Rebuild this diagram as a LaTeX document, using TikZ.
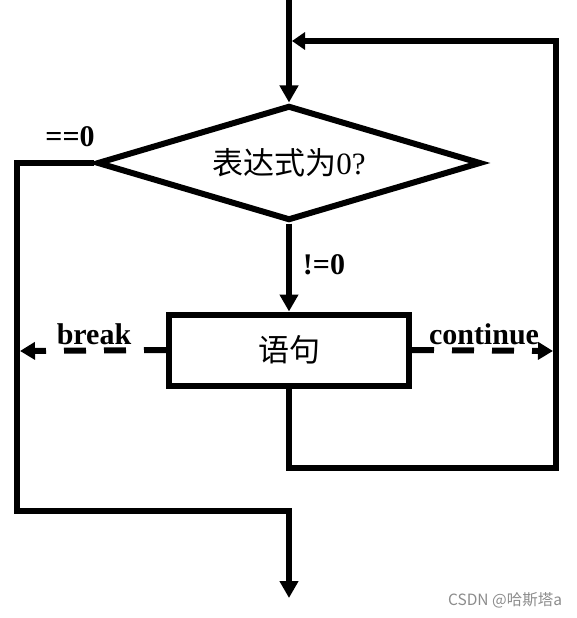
\documentclass[tikz,border=0pt]{standalone}
\usepackage{fontspec}
\setmainfont{Liberation Serif}
\newfontfamily\cjk{Noto Sans CJK SC}
\usetikzlibrary{shapes.geometric, arrows.meta, positioning}
\definecolor{FlowBlack}{HTML}{000000}
\definecolor{FlowWhite}{HTML}{FFFFFF}
\definecolor{FlowGray}{HTML}{8C8C8C}
\tikzset{
    % Decision box style
    decision/.style={
        diamond,
        draw=FlowBlack,
        fill=FlowWhite,
        line width=6pt,
        aspect=3.34,
        minimum width=384pt,
        minimum height=115pt,
        inner sep=0pt,
        align=center,
        font=\fontsize{31}{37}\selectfont
    },
    % Statement box style
    process/.style={
        rectangle,
        draw=FlowBlack,
        fill=FlowWhite,
        line width=6pt,
        minimum width=240pt,
        minimum height=71pt,
        inner sep=0pt,
        align=center,
        font=\fontsize{31}{37}\selectfont
    },
    % Arrow style
    arrow/.style={
        -{Triangle[length=17pt,width=18pt]},
        line width=6pt,
        color=FlowBlack
    },
    % Jump (break / continue) style
    jump/.style={
        arrow,
        -{Triangle[length=15pt,width=17pt]},
        dash pattern=on 22pt off 18pt
    },
    % Condition label
    cndlabel/.style={
        inner sep=2pt,
        font=\fontsize{30}{36}\selectfont\bfseries
    },
    % Watermark
    watermark/.style={
        inner sep=0pt,
        text=FlowGray,
        font=\cjk\fontsize{15.5}{18}\selectfont
    }
}

\begin{document}
\begin{tikzpicture}[x=1pt, y=1pt]
    \useasboundingbox (0,0) rectangle (577,-618);
    % Loop nodes
    \node (test) [decision] at (289,-163) {{\cjk 表达式为}0?};
    \node (body) [process, below=88pt of test] {{\cjk 语句}};

    % Free ends of the connectors
    \coordinate (entry) at (289,0);
    \coordinate (join) at (292,-41);
    \coordinate (lpbot) at (556,-468);
    \coordinate (lptop) at (556,-41);
    \coordinate (lft) at (17,-511);
    \coordinate (exit) at (289,-598);
    \coordinate (brk) at (20,-351);
    \coordinate (cnt) at (553,-351);

    \draw [arrow] (entry) -- (test);
    \draw [arrow] (test) -- (body);
    \draw [arrow] (test.west) -| (lft) -| (exit);
    \draw [arrow, -{Triangle[length=13pt,width=17pt]}] (body.south) |- (lpbot) -- (lptop) -- (join);
    \draw [jump] (body.west) -- (brk);
    \draw [jump] (body.east) -- (cnt);

    % Labels
    \node (eqzero) [cndlabel] at (70,-137) {==0};
    \node (nezero) [cndlabel] at (324,-265) {!=0};
    \node (lbbreak) [cndlabel] at (94,-334) {break};
    \node (lbcont) [cndlabel] at (484,-334) {continue};

    \node (csdn) [watermark] at (505,-600) {CSDN @哈斯塔a};
\end{tikzpicture}
\end{document}
